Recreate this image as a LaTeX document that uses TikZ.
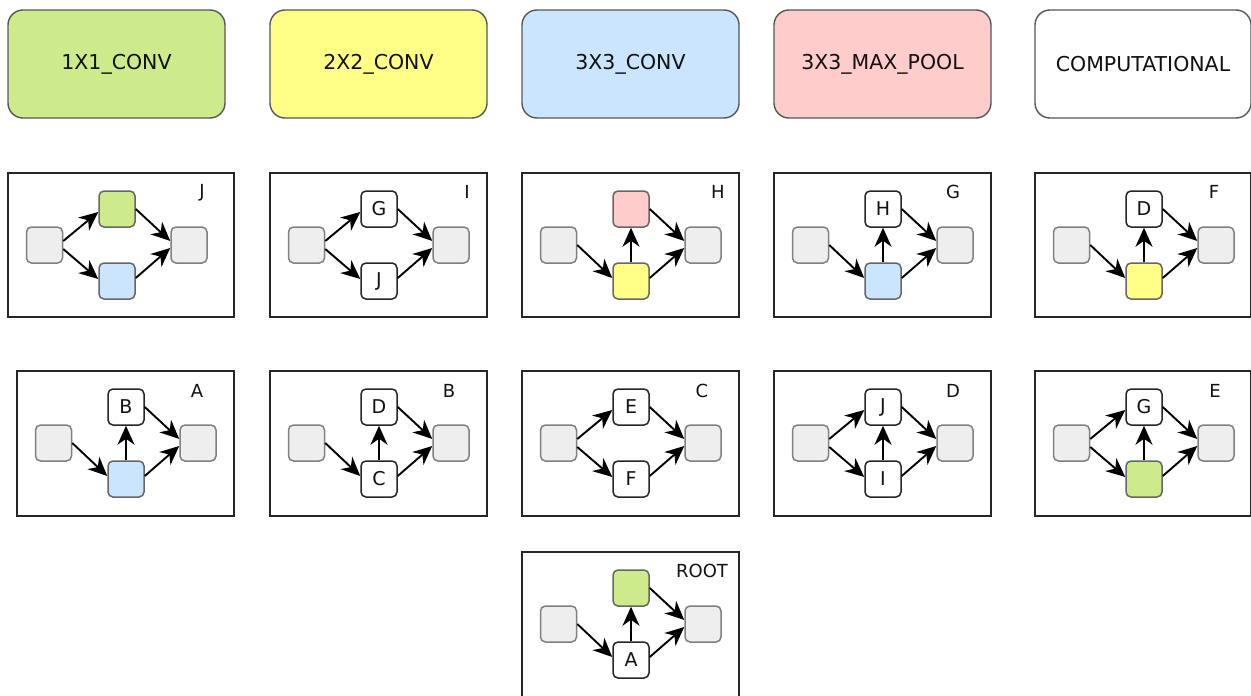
\documentclass[tikz,border=0pt]{standalone}
\usepackage{fontspec}
\setmainfont{DejaVu Sans}
\usetikzlibrary{arrows.meta}
\definecolor{cgreen}{HTML}{CDEB8B}
\definecolor{cyellow}{HTML}{FFFF88}
\definecolor{cblue}{HTML}{CCE5FF}
\definecolor{cpink}{HTML}{FFCCCC}
\definecolor{cgray}{HTML}{EEEEEE}
\definecolor{cline}{HTML}{36393D}
\definecolor{ctext}{HTML}{111111}
\tikzset{
  legendbox/.style={draw=cline!85, line width=1.4pt, rounded corners=15pt,
    minimum width=217pt, minimum height=108pt, inner sep=0pt, text=ctext,
    font=\fontsize{20.5}{24}\selectfont},
  frame/.style={draw=black!85, line width=1.9pt},
  plabel/.style={inner sep=0pt, text=ctext, font=\fontsize{18}{20}\selectfont},
  sbox/.style={minimum width=36pt, minimum height=36pt, inner sep=0pt,
    rounded corners=5pt, line width=1.5pt, text=ctext,
    font=\fontsize{19}{20}\selectfont},
  gbox/.style={sbox, fill=cgray, draw=black!50},
  wbox/.style={sbox, fill=white, draw=black!85},
  greenbox/.style={sbox, fill=cgreen, draw=black!60},
  bluebox/.style={sbox, fill=cblue, draw=black!60},
  yellowbox/.style={sbox, fill=cyellow, draw=black!60},
  pinkbox/.style={sbox, fill=cpink, draw=black!60},
  arr/.style={draw=black, line width=1.9pt,
    -{Stealth[length=19pt, width=17pt, inset=6pt]}},
}
% #1 prefix, #2 x, #3 y, #4 top style, #5 top text, #6 bottom style, #7 bottom text
\newcommand\mkpanel[7]{%
  \node[gbox] (#1L) at ({#2+36.5},{#3+72}) {};
  \node[#4] (#1T) at ({#2+109},{#3+36}) {#5};
  \node[#6] (#1B) at ({#2+109},{#3+108}) {#7};
  \node[gbox] (#1R) at ({#2+181},{#3+72}) {};
  \draw[arr] (#1T.east) -- ([yshift=4pt]#1R.west);
  \draw[arr] ([yshift=3pt]#1B.east) -- ([yshift=-3pt]#1R.west);
}
\newcommand\splitarrows[1]{%
  \draw[arr] ([yshift=4pt]#1L.east) -- ([yshift=-3pt]#1T.west);
  \draw[arr] ([yshift=-4pt]#1L.east) -- ([yshift=2pt]#1B.west);
}
\newcommand\chainarrows[1]{%
  \draw[arr] (#1L.east) -- ([yshift=3pt]#1B.west);
  \draw[arr] (#1B.north) -- (#1T.south);
}
\newcommand\botharrows[1]{%
  \splitarrows{#1}
  \draw[arr] (#1B.north) -- (#1T.south);
}
\begin{document}
\begin{tikzpicture}[x=1pt,y=-1pt]
\useasboundingbox (0,0) rectangle (1251,696);
\clip (0,0) rectangle (1251,696);
% legend
\node[legendbox, fill=cgreen] (lg1) at (116.5,64) {1X1\_CONV};
\node[legendbox, fill=cyellow] (lg2) at (378.5,64) {2X2\_CONV};
\node[legendbox, fill=cblue] (lg3) at (630.5,64) {3X3\_CONV};
\node[legendbox, fill=cpink] (lg4) at (882.5,64) {3X3\_MAX\_POOL};
\node[legendbox, fill=white, minimum width=216pt] (lg5) at (1143,64) {COMPUTATIONAL};
% frames row 1
\draw[frame] (8,173) rectangle (234,317);
\draw[frame] (270,173) rectangle (487,317);
\draw[frame] (522,173) rectangle (739,317);
\draw[frame] (774,173) rectangle (991,317);
\draw[frame] (1035,173) rectangle (1250.5,317);
% frames row 2
\draw[frame] (17,371) rectangle (234,516);
\draw[frame] (270,371) rectangle (487,516);
\draw[frame] (522,371) rectangle (739,516);
\draw[frame] (774,371) rectangle (991,516);
\draw[frame] (1035,371) rectangle (1250.5,516);
% root frame
\draw[frame] (522,552) rectangle (739,700);
% labels
\node[plabel] (labJ) at (202,193) {J};
\node[plabel] (labI) at (467,192) {I};
\node[plabel] (labH) at (718,192) {H};
\node[plabel] (labG) at (953,192) {G};
\node[plabel] (labF) at (1214,192) {F};
\node[plabel] (labA) at (197,391) {A};
\node[plabel] (labB) at (449,391) {B};
\node[plabel] (labC) at (702,391) {C};
\node[plabel] (labD) at (953,391) {D};
\node[plabel] (labE) at (1215,391) {E};
\node[plabel] (labR) at (702,571) {ROOT};
% panel contents row 1
\mkpanel{j}{8}{173}{greenbox}{}{bluebox}{}
\splitarrows{j}
\mkpanel{i}{270}{173}{wbox}{G}{wbox}{J}
\splitarrows{i}
\mkpanel{h}{522}{173}{pinkbox}{}{yellowbox}{}
\chainarrows{h}
\mkpanel{g}{774}{173}{wbox}{H}{bluebox}{}
\chainarrows{g}
\mkpanel{f}{1035}{173}{wbox}{D}{yellowbox}{}
\chainarrows{f}
% row 2
\mkpanel{a}{17}{371}{wbox}{B}{bluebox}{}
\chainarrows{a}
\mkpanel{b}{270}{371}{wbox}{D}{wbox}{C}
\chainarrows{b}
\mkpanel{c}{522}{371}{wbox}{E}{wbox}{F}
\splitarrows{c}
\mkpanel{d}{774}{371}{wbox}{J}{wbox}{I}
\botharrows{d}
\mkpanel{e}{1035}{371}{wbox}{G}{greenbox}{}
\botharrows{e}
% root
\mkpanel{r}{522}{552}{greenbox}{}{wbox}{A}
\chainarrows{r}
\end{tikzpicture}
\end{document}
